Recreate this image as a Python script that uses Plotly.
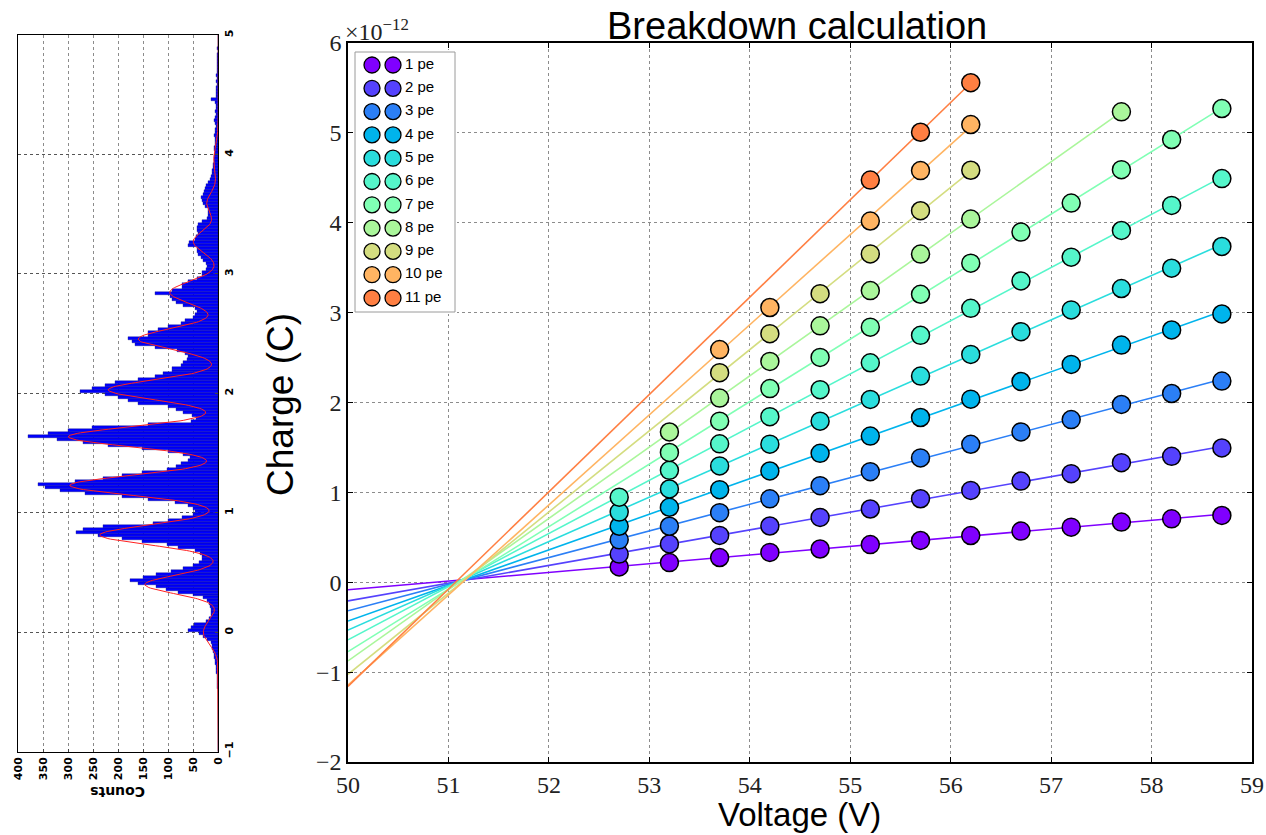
import math
import numpy as np
import plotly.graph_objects as go

# ---------------------------------------------------------------------------
# Breakdown data: charge (units of 1e-12 C) of the n-photoelectron peak vs bias
# ---------------------------------------------------------------------------
V_ALL = [52.7, 53.2, 53.7, 54.2, 54.7, 55.2, 55.7, 56.2, 56.7, 57.2, 57.7, 58.2, 58.7]
V_PE7 = [53.2, 53.7, 54.2, 54.7, 55.2, 55.7, 56.2, 56.7, 57.2, 57.7, 58.2, 58.7]
V_PE8 = [53.2, 53.7, 54.2, 54.7, 55.2, 55.7, 56.2, 57.7]
V_PE9 = [53.7, 54.2, 54.7, 55.2, 55.7, 56.2]
V_PE10 = [53.7, 54.2, 55.2, 55.7, 56.2]
V_PE11 = [55.2, 55.7, 56.2]

q_pe1 = [0.170, 0.219, 0.275, 0.332, 0.370, 0.419, 0.465, 0.520, 0.569, 0.613, 0.669, 0.706, 0.743]
q_pe2 = [0.313, 0.426, 0.521, 0.626, 0.721, 0.815, 0.929, 1.022, 1.126, 1.208, 1.331, 1.401, 1.494]
q_pe3 = [0.472, 0.623, 0.774, 0.928, 1.075, 1.230, 1.383, 1.535, 1.673, 1.810, 1.978, 2.100, 2.238]
q_pe4 = [0.623, 0.834, 1.030, 1.238, 1.434, 1.626, 1.833, 2.037, 2.234, 2.424, 2.639, 2.807, 2.985]
q_pe5 = [0.781, 1.038, 1.294, 1.536, 1.792, 2.034, 2.294, 2.535, 2.788, 3.030, 3.268, 3.494, 3.736]
q_pe6 = [0.947, 1.245, 1.540, 1.842, 2.143, 2.442, 2.747, 3.048, 3.353, 3.617, 3.914, 4.193, 4.491]
q_pe7 = [1.445, 1.792, 2.155, 2.502, 2.838, 3.204, 3.550, 3.896, 4.219, 4.591, 4.926, 5.271]
q_pe8 = [1.672, 2.049, 2.457, 2.853, 3.245, 3.651, 4.041, 5.234]
q_pe9 = [2.332, 2.766, 3.211, 3.653, 4.134, 4.584]
q_pe10 = [2.589, 3.057, 4.019, 4.580, 5.093]
q_pe11 = [4.475, 5.007, 5.558]

pe_labels = ["1 pe", "2 pe", "3 pe", "4 pe", "5 pe", "6 pe",
             "7 pe", "8 pe", "9 pe", "10 pe", "11 pe"]
pe_voltages = [V_ALL, V_ALL, V_ALL, V_ALL, V_ALL, V_ALL, V_PE7, V_PE8, V_PE9, V_PE10, V_PE11]
pe_charges = [q_pe1, q_pe2, q_pe3, q_pe4, q_pe5, q_pe6, q_pe7, q_pe8, q_pe9, q_pe10, q_pe11]

V_FIT_START = 50.0

# ---------------------------------------------------------------------------
# Charge spectrum histogram (counts per 0.025 wide bin, from -1 to 5)
# ---------------------------------------------------------------------------
HIST_START = -1.0
HIST_BIN = 0.025
hist_counts = [
    0, 0, 0, 0,   0, 0, 0, 0,   0, 0, 0, 0,   0, 0, 0, 1,   0, 1, 1, 1,
    1, 2, 2, 2,   3, 3, 4, 4,   5, 6, 7, 8,   9, 10, 12, 13,   15, 22, 30, 38,
    60, 55, 48, 25,   18, 15, 14, 15,   17, 19, 22, 30,   50, 80, 105, 125,
    160, 177, 150, 125,   95, 70, 50, 38,   33, 32, 37, 47,   80, 103, 153, 193,
    240, 285, 270, 230,   130, 100, 73, 50,   47, 50, 60, 87,   140, 193, 267, 317,
    347, 360, 287, 230,   193, 153, 103, 85,   75, 60, 57, 70,   100, 153, 220, 270,
    323, 380, 340, 300,   253, 140, 55, 45,   53, 70, 85, 100,   160, 180, 200, 227,
    277, 253, 227, 207,   160, 127, 110, 93,   93, 75, 70, 62,   60, 67, 83, 127,
    167, 173, 180, 140,   140, 120, 100, 75,   67, 50, 47, 43,   47, 70, 85, 93,
    97, 127, 93, 73,   73, 60, 43, 33,   33, 25, 23, 25,   30, 35, 40, 43,
    43, 60, 58, 47,   45, 40, 42, 43,   40, 33, 23, 20,   20, 20, 27, 30,
    32, 34, 30, 28,   26, 24, 20, 17,   15, 13, 12, 10,   10, 9, 8, 8,
    7, 8, 9, 7,   6, 7, 8, 6,   7, 5, 6, 8,   6, 5, 7, 5,
    5, 6, 14, 5,   4, 5, 4, 3,   4, 3, 4, 3,   3, 2, 3, 2,
    2, 2, 1, 2,   1, 1, 1, 0,
]

# multi-gaussian fit of the spectrum
fit_centers = [0.00, 0.40, 0.815, 1.23, 1.637, 2.03, 2.455, 2.845, 3.27, 3.59, 3.95]
fit_amplitudes = [30, 147, 237, 297, 300, 220, 160, 97, 50, 23, 9]
fit_sigmas = [0.10, 0.075, 0.08, 0.08, 0.08, 0.08, 0.085, 0.09, 0.09, 0.09, 0.12]

# ---------------------------------------------------------------------------
W, H = 1266, 835


def px_x(p):
    return p / W


def px_y(p):
    return 1 - p / H


def rainbow(t):
    r = min(1.0, abs(2 * t - 0.5))
    g = math.sin(math.pi * t)
    b = math.cos(math.pi * t / 2)
    return "rgb(%d,%d,%d)" % (round(255 * r), round(255 * g), round(255 * b))


pe_colors = [rainbow(i / 12) for i in range(len(pe_labels))]

SERIF = "Liberation Serif, DejaVu Serif, serif"
SANS = "Liberation Sans, Arial, sans-serif"
BOLD = "DejaVu Sans, sans-serif"

fig = go.Figure()

# fitted straight lines, extended back to 50 V
for volts, charges, col in zip(pe_voltages, pe_charges, pe_colors):
    slope, icpt = np.polyfit(volts, charges, 1)
    xs = np.array([V_FIT_START, max(volts)])
    fig.add_trace(go.Scatter(
        x=xs, y=slope * xs + icpt, mode="lines",
        line=dict(color=col, width=1.6), hoverinfo="skip", showlegend=False,
        xaxis="x", yaxis="y"))

# measured points
for volts, charges, col, lab in zip(pe_voltages, pe_charges, pe_colors, pe_labels):
    fig.add_trace(go.Scatter(
        x=volts, y=charges, mode="markers", name=lab,
        marker=dict(size=18, color=col, line=dict(color="black", width=1.5)),
        showlegend=False, xaxis="x", yaxis="y"))

# histogram (rotated: counts run right-to-left, charge runs upward)
centers = HIST_START + HIST_BIN * (np.arange(len(hist_counts)) + 0.5)
fig.add_trace(go.Bar(
    x=hist_counts, y=centers, orientation="h", width=HIST_BIN,
    marker=dict(color="#0000ff", line=dict(color="rgba(0,0,110,0.7)", width=0.5)),
    showlegend=False, xaxis="x2", yaxis="y2"))

q_grid = np.linspace(-1, 5, 1201)
fit_curve = np.zeros_like(q_grid)
for c, a, s in zip(fit_centers, fit_amplitudes, fit_sigmas):
    fit_curve += a * np.exp(-0.5 * ((q_grid - c) / s) ** 2)
fig.add_trace(go.Scatter(
    x=fit_curve, y=q_grid, mode="lines", line=dict(color="#ff2020", width=1),
    showlegend=False, xaxis="x2", yaxis="y2"))

# legend panel: frame, two symbols per entry, label
LEG_W, LEG_H = 100, 260
fig.add_trace(go.Scatter(
    x=[0, LEG_W, LEG_W, 0, 0], y=[0, 0, LEG_H, LEG_H, 0], mode="lines",
    fill="toself", fillcolor="white", line=dict(color="#9a9a9a", width=1),
    hoverinfo="skip", showlegend=False, xaxis="x3", yaxis="y3"))
row_y = [13 + 23.3 * i for i in range(len(pe_labels))]
for sx in [17, 38]:
    fig.add_trace(go.Scatter(
        x=[sx] * len(pe_labels), y=row_y, mode="markers",
        marker=dict(size=16, color=pe_colors, line=dict(color="black", width=1.3)),
        hoverinfo="skip", showlegend=False, xaxis="x3", yaxis="y3"))
fig.add_trace(go.Scatter(
    x=[50] * len(pe_labels), y=row_y, mode="text", text=pe_labels,
    textposition="middle right", textfont=dict(family=SANS, size=15, color="black"),
    hoverinfo="skip", showlegend=False, xaxis="x3", yaxis="y3"))

grid_main = dict(showgrid=True, gridcolor="#8c8c8c", griddash="dot", gridwidth=1,
                 zeroline=False, showline=True, linecolor="black", linewidth=1.5,
                 mirror="allticks", ticks="inside", ticklen=5, tickcolor="black",
                 automargin=False,
                 tickfont=dict(family=SERIF, size=24, color="#222"))

hist_axis = dict(showgrid=True, griddash="dot", gridwidth=1, zeroline=False,
                 showline=True, linecolor="black", linewidth=1, mirror=True,
                 ticks="inside", ticklen=3, automargin=False, tickangle=-90,
                 tickfont=dict(family=BOLD, size=11, color="black", weight="bold"))

fig.update_layout(
    width=W, height=H, margin=dict(l=0, r=0, t=0, b=0, autoexpand=False),
    paper_bgcolor="white", plot_bgcolor="white", bargap=0,
    xaxis=dict(domain=[px_x(348), px_x(1252)], range=[50, 59],
               tickvals=list(range(50, 60)), anchor="y", **grid_main),
    yaxis=dict(domain=[px_y(762), px_y(43)], range=[-2, 6],
               tickvals=list(range(-2, 7)),
               ticktext=["\u22122", "\u22121", "0", "1", "2", "3", "4", "5", "6"],
               anchor="x", **grid_main),
    xaxis2=dict(domain=[px_x(18.3), px_x(218.3)], range=[400, 0], anchor="y2",
                tickvals=list(range(0, 401, 50)), gridcolor="#8c8c8c", **hist_axis),
    yaxis2=dict(domain=[px_y(751.8), px_y(35)], range=[-1, 5], anchor="x2",
                side="right", tickvals=list(range(-1, 6)),
                ticktext=["\u22121", "0", "1", "2", "3", "4", "5"],
                gridcolor="#555555", **hist_axis),
    xaxis3=dict(domain=[px_x(353), px_x(457)], range=[-2, LEG_W + 2],
                visible=False, anchor="y3", fixedrange=True, automargin=False),
    yaxis3=dict(domain=[px_y(314), px_y(50)], range=[LEG_H + 2, -2],
                visible=False, anchor="x3", fixedrange=True, automargin=False),
)

fig.update_layout(annotations=[
    dict(text="Breakdown calculation", x=px_x(797), y=px_y(26), xref="paper",
         yref="paper", showarrow=False, xanchor="center", yanchor="middle",
         font=dict(family=SANS, size=38, color="black")),
    dict(text="Voltage (V)", x=px_x(799), y=px_y(814), xref="paper", yref="paper",
         showarrow=False, xanchor="center", yanchor="middle",
         font=dict(family=SANS, size=33, color="black")),
    dict(text="Charge (C)", x=px_x(281), y=px_y(405), xref="paper", yref="paper",
         showarrow=False, xanchor="center", yanchor="middle", textangle=-90,
         font=dict(family=SANS, size=37, color="black")),
    dict(text="\u00d710<sup>\u221212</sup>", x=px_x(343), y=px_y(30), xref="paper",
         yref="paper", showarrow=False, xanchor="left", yanchor="middle",
         font=dict(family=SERIF, size=24, color="#222")),
    dict(text="<b>Counts</b>", x=px_x(118), y=px_y(792), xref="paper", yref="paper",
         showarrow=False, xanchor="center", yanchor="middle", textangle=180,
         font=dict(family=BOLD, size=14, color="black")),
])

fig.write_html("out.html")
